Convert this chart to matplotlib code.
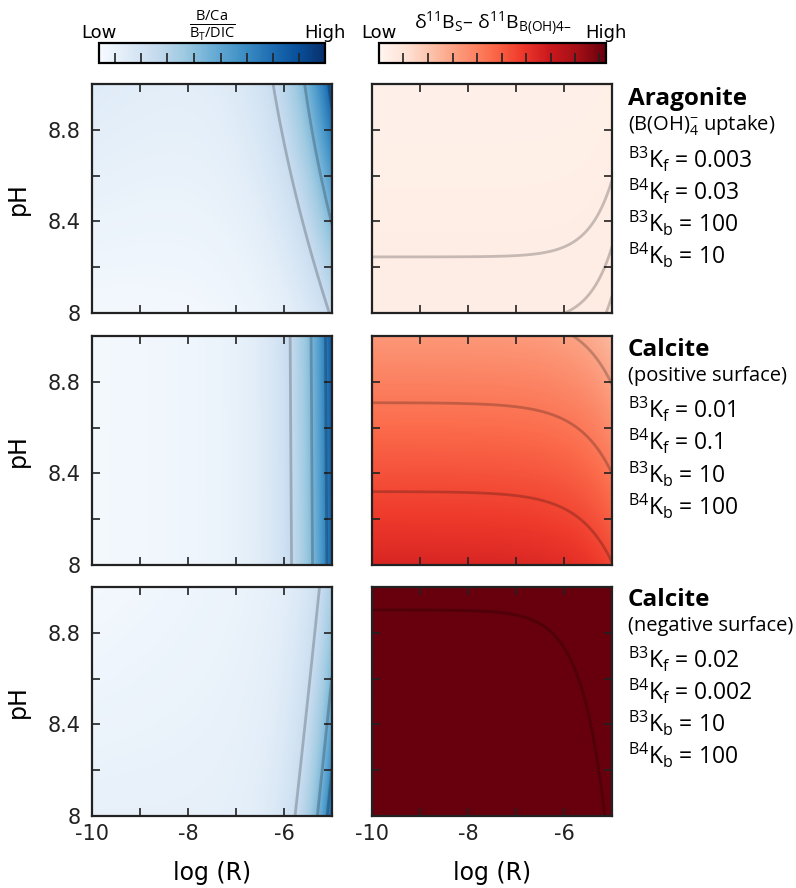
import numpy as np
import matplotlib
matplotlib.use('Agg')
import matplotlib.pyplot as plt
from matplotlib.cm import ScalarMappable

plt.rcParams['mathtext.fontset'] = 'custom'
plt.rcParams['mathtext.rm'] = 'Open Sans'
plt.rcParams['mathtext.it'] = 'Open Sans:italic'
plt.rcParams['mathtext.bf'] = 'Open Sans:bold'

# panel texts
minerals = ['Aragonite', 'Calcite', 'Calcite']
uptake = [r'(B(OH)$_{4}^{-}$ uptake)', '(positive surface)', '(negative surface)']
kf_b3 = ['0.003', '0.01', '0.02']
kf_b4 = ['0.03', '0.1', '0.002']
kb_b3 = ['100', '10', '10']
kb_b4 = ['10', '100', '100']

# axes ticks
x_ticks = [-10, -9, -8, -7, -6, -5]
x_ticklabels = ['-10', '', '-8', '', '-6', '']
y_ticks = [8.0, 8.2, 8.4, 8.6, 8.8, 9.0]
y_ticklabels = ['8', '', '8.4', '', '8.8', '']

blue_base = [0.02, 0.02, 0.08]
blue_xslope = [0.0, 0.04, 0.0]
blue_phslope = [0.10, 0.0, -0.06]
blue_amp = [0.23, 0.75, 0.70]
blue_tilt = [1.53, 0.03, -0.5]
blue_tilt2 = [-0.46, 0.0, 0.0]
blue_width = [0.835, 0.63, 0.5]
blue_levels = [[0.235, 0.45, 0.78], [0.25, 0.45, 0.69], [0.23, 0.46, 0.65]]

# d11B offset surfaces (right column)
red_base = [0.05, 0.70, 2.00]
red_phslope = [-0.02, -0.34, -0.34]
red_amp = [0.0067, -0.105, -0.413]
red_width = [0.49, 0.70, 0.50]
red_levels = [[0.0451, 0.0509, 0.0552], [0.327, 0.459, 0.591], [1.694]]

logR = np.linspace(-10, -5, 300)
pH = np.linspace(8, 9, 300)
X, P = np.meshgrid(logR, pH)


def blue_field(i):
    fade = np.clip((-5 - X) / 5, 0, 1)
    d = P - 8
    u = X + blue_tilt[i] * d + blue_tilt2[i] * d ** 2
    return (blue_base[i] + blue_xslope[i] * (X + 10) / 5
            + blue_phslope[i] * d * fade
            + blue_amp[i] * np.exp((u + 5) / blue_width[i]))


def red_field(i):
    return (red_base[i] + red_phslope[i] * (P - 8)
            + red_amp[i] * np.exp((X + 5) / red_width[i]))


W, H = 796, 888
fig = plt.figure(figsize=(W / 100, H / 100), dpi=100)


def px(l, t, w, h):
    return [l / W, 1 - (t + h) / H, w / W, h / H]


row_top = [84, 336, 587]
row_h = 229
col_left = [92, 372]
col_w = 240


def style(ax, row, col):
    ax.set_xlim(-10, -5)
    ax.set_ylim(8, 9)
    ax.set_xticks(x_ticks)
    ax.set_yticks(y_ticks)
    ax.set_xticklabels(x_ticklabels if row == 2 else [''] * 6)
    ax.set_yticklabels(y_ticklabels if col == 0 else [''] * 6)
    ax.tick_params(direction='in', length=6, width=1.2, top=True, right=True,
                   labelsize=15, pad=6, colors='#222222')
    ax.tick_params(axis='y', pad=8)
    for s in ax.spines.values():
        s.set_linewidth(1.6)
        s.set_color('#222222')
    if col == 0:
        ax.set_ylabel('pH', fontsize=17, labelpad=13)
    if row == 2:
        ax.set_xlabel('log (R)', fontsize=17, labelpad=12)


for r in range(3):
    for c in range(2):
        ax = fig.add_axes(px(col_left[c], row_top[r], col_w, row_h))
        if c == 0:
            Z = blue_field(r)
            cmap, lev = 'Blues', blue_levels[r]
        else:
            Z = red_field(r)
            cmap, lev = 'Reds', red_levels[r]
        ax.imshow(Z, extent=[-10, -5, 8, 9], origin='lower', aspect='auto',
                  cmap=cmap, vmin=0, vmax=1, interpolation='bilinear')
        ax.contour(X, P, Z, levels=lev, colors='k', alpha=0.22, linewidths=2)
        style(ax, r, c)

# annotations on the right
title_y = [105, 356, 606]
sub_y = [131, 381, 631]
k_y = [[168, 200, 232, 264], [418, 450, 483, 515], [668, 700, 732, 764]]
tx = 628 / W
for r in range(3):
    fig.text(tx, 1 - title_y[r] / H, minerals[r], fontsize=17.5, fontweight='bold',
             family='Open Sans', va='baseline')
    fig.text(tx, 1 - sub_y[r] / H, uptake[r], fontsize=14.5,
             family='Open Sans', va='baseline')
    lines = [r'$^{\mathrm{B3}}\mathrm{K}_{\mathrm{f}}$ = ' + kf_b3[r],
             r'$^{\mathrm{B4}}\mathrm{K}_{\mathrm{f}}$ = ' + kf_b4[r],
             r'$^{\mathrm{B3}}\mathrm{K}_{\mathrm{b}}$ = ' + kb_b3[r],
             r'$^{\mathrm{B4}}\mathrm{K}_{\mathrm{b}}$ = ' + kb_b4[r]]
    for k, s in enumerate(lines):
        fig.text(tx, 1 - k_y[r][k] / H, s, fontsize=16.5, family='Open Sans',
                 va='baseline')

# colorbars
blue_cb_ticks = [0.069, 0.188, 0.303, 0.420, 0.538, 0.654, 0.769, 0.886]
red_cb_ticks = [0.107, 0.217, 0.325, 0.430, 0.540, 0.648, 0.756, 0.863, 0.971]
cb_specs = [('Blues', 99, 226, blue_cb_ticks,
             r'$\frac{\mathrm{B/Ca}}{\mathrm{B_T/DIC}}$', 25, 15),
            ('Reds', 379, 227, red_cb_ticks,
             u'\u03b4$^{11}$B$_{\\mathrm{S}}$\u2013 \u03b4$^{11}$B$_{\\mathrm{B(OH)4\u2013}}$',
             24, 14)]
for cmap, l, w, ticks, label, ly, fs in cb_specs:
    cax = fig.add_axes(px(l, 43, w, 20))
    cb = fig.colorbar(ScalarMappable(cmap=cmap), cax=cax, orientation='horizontal')
    cb.set_ticks(ticks)
    cb.ax.tick_params(direction='in', length=7, width=1.2, labelbottom=False,
                      color='#222222')
    cb.outline.set_linewidth(1.6)
    fig.text(l / W, 1 - 38 / H, 'Low', fontsize=13, ha='center', va='baseline')
    fig.text((l + w) / W, 1 - 38 / H, 'High', fontsize=13, ha='center', va='baseline')
    fig.text((l + w / 2) / W, 1 - ly / H, label, fontsize=fs, ha='center',
             va='center', family='Open Sans')

fig.savefig('out.png', dpi=100)
